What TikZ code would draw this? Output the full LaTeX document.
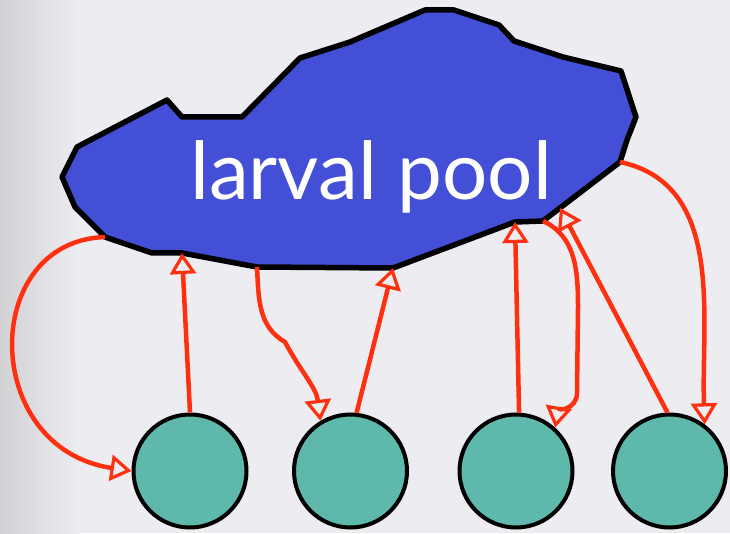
\documentclass[tikz,border=0pt]{standalone}
\usepackage{fontspec}
\usepackage{tikz}
\usetikzlibrary{shapes,positioning,arrows.meta}
\newfontfamily\poolfont{Lato}
\definecolor{poolblue}{RGB}{66,79,214}
\definecolor{adultteal}{RGB}{94,184,172}
\definecolor{linkred}{RGB}{255,48,16}
\definecolor{slidegray}{RGB}{237,236,241}
\definecolor{slideedge}{RGB}{210,210,213}

\begin{document}
\begin{tikzpicture}[x=1pt,y=1pt,
    adult/.style={draw, circle, line width=4pt, fill=adultteal,
        minimum size=113pt, inner sep=0pt},
    link/.style={draw=linkred, line width=4.5pt,
        -{Triangle[open,length=21pt,width=26pt,line width=3.2pt]}}]

% slide background
\fill[slidegray] (0,0) rectangle (730,533);
\shade[left color=slideedge, right color=slidegray] (0,0) rectangle (80,533);
\useasboundingbox (0,0) rectangle (730,533);

% outline of the pool
\coordinate (a) at (62,356);
\coordinate (b) at (77,386);
\coordinate (c) at (167,433);
\coordinate (d) at (182,416);
\coordinate (e) at (242,416);
\coordinate (f) at (300,475);
\coordinate (g) at (350,491);
\coordinate (h) at (425,523);
\coordinate (i) at (454,523);
\coordinate (j) at (499,508);
\coordinate (k) at (514,492);
\coordinate (l) at (563,476);
\coordinate (m) at (621,462);
\coordinate (n) at (636,416);
\coordinate (o) at (627,393);
\coordinate (p) at (620,371);
\coordinate (q) at (543,312);
\coordinate (r) at (515,311);
\coordinate (s) at (393,265);
\coordinate (t) at (257,266);
\coordinate (u) at (182,280);
\coordinate (v) at (152,280);
\coordinate (w) at (105,296);
\coordinate (x) at (75,326);
\coordinate (edgeA) at (560,325);

\draw[fill=poolblue, line width=5.5pt, line join=round]
    (a) -- (b) -- (c) -- (d) -- (e) -- (f) -- (g) -- (h) -- (i) -- (j) -- (k)
    -- (l) -- (m) -- (n) -- (o) -- (p) -- (q) -- (r) -- (s) -- (t) -- (u)
    -- (v) -- (w) -- (x) -- cycle;

\node[text=white,
    font=\poolfont\fontsize{80}{80}\selectfont,
    anchor=base
] (pool) at (371,333) {larval pool};

% adults
\node[adult] (adult1) at (190,62) {};
\node[adult, right=43.5pt of adult1] (adult2) {};
\node[adult, right=48.5pt of adult2] (adult3) {};
\node[adult, right=36.5pt of adult3] (adult4) {};

\draw[link] (w) .. controls (-20,292) and (-20,85) .. (adult1.west);
\draw[link] (adult1.north) -- (u);

\draw[link] (t) to[out=-87,in=150] (285,191) to[out=-62,in=97] (adult2.121);
\draw[link] (adult2.84) -- (s);

\draw[link] (adult3.87) -- (r);
\draw[link] (q) to[out=-25,in=90] (578,225) -- (577,140) to[out=-90,in=80] (adult3.48);

\draw[link] (adult4.92) -- (edgeA);
\draw[link] (p) to[out=-12,in=92] (adult4.53);

\end{tikzpicture}
\end{document}
